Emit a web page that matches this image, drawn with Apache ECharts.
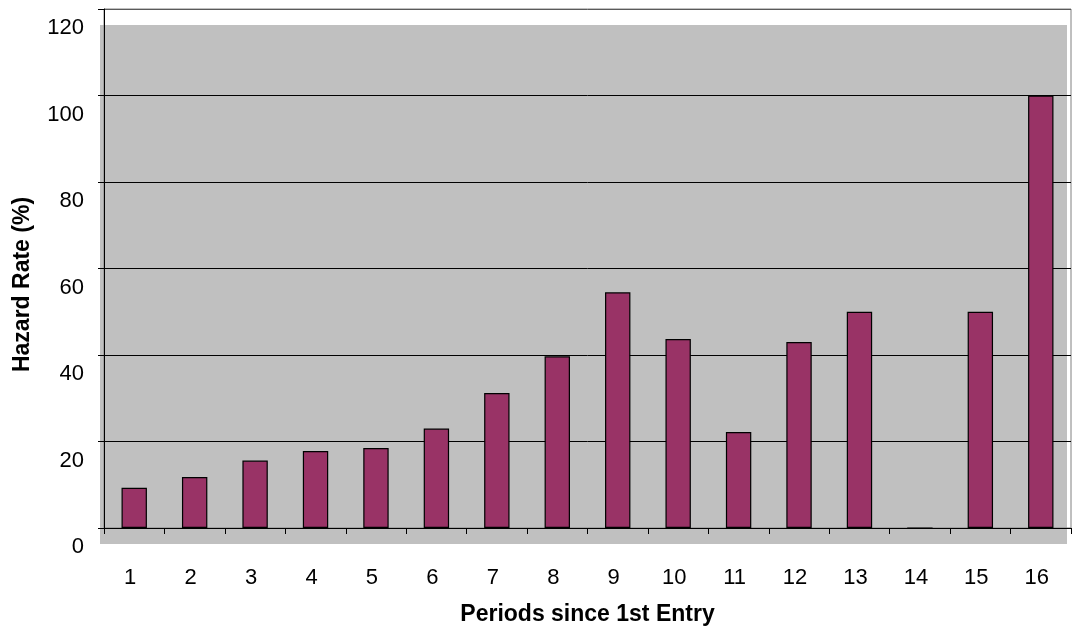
<!DOCTYPE html>
<html>
<head>
<meta charset="utf-8">
<script src="https://cdn.jsdelivr.net/npm/echarts@6/dist/echarts.min.js"></script>
<style>
  html, body { margin: 0; padding: 0; background: #ffffff; }
  #chart { width: 1075px; height: 629px; }
</style>
</head>
<body>
<div id="chart"></div>
<script>
// ---- data ----
const categories = ['1','2','3','4','5','6','7','8','9','10','11','12','13','14','15','16'];
const hazardRate = [9.3, 11.8, 15.6, 17.8, 18.5, 23.0, 31.2, 39.7, 54.5, 43.7, 22.2, 43.0, 50.0, 0, 50.0, 100];
const yMin = 0;
const yMax = 120;
const yStep = 20;
const xTitle = 'Periods since 1st Entry';
const yTitle = 'Hazard Rate (%)';

// ---- layout ----
const W = 1075, H = 629;
const GRID = { left: 104, top: 9, right: 4, bottom: 101 };
const plotW = W - GRID.left - GRID.right;
const plotH = H - GRID.top - GRID.bottom;
const SHIFT_X = -4, SHIFT_Y = 19;

const chart = echarts.init(document.getElementById('chart'), null, { renderer: 'canvas' });
const font = 'Liberation Sans, Arial, Helvetica, sans-serif';

chart.setOption({
  animation: false,
  backgroundColor: '#ffffff',
  graphic: [{
    type: 'rect',
    z: -100,
    silent: true,
    shape: { x: GRID.left + SHIFT_X, y: GRID.top + 16, width: plotW, height: plotH },
    style: { fill: '#C0C0C0' }
  }],
  grid: {
    left: GRID.left, top: GRID.top, right: GRID.right, bottom: GRID.bottom,
    show: true, backgroundColor: 'transparent', borderColor: '#808080', borderWidth: 1,
    containLabel: false,
    outerBoundsMode: 'none'
  },
  xAxis: {
    type: 'category',
    data: categories,
    boundaryGap: true,
    name: xTitle,
    nameLocation: 'middle',
    nameGap: 75,
    nameTextStyle: { fontFamily: font, fontSize: 23, fontWeight: 'bold', color: '#000' },
    axisLine: { show: true, lineStyle: { color: '#000', width: 1 } },
    axisTick: { show: true, alignWithLabel: false, length: 6, lineStyle: { color: '#000', width: 1 } },
    axisLabel: {
      interval: 0, margin: 39, fontFamily: font, fontSize: 22, color: '#000',
      padding: [0, -2 * SHIFT_X, 0, 0]
    },
    splitLine: { show: false }
  },
  yAxis: {
    type: 'value',
    min: yMin, max: yMax, interval: yStep,
    name: yTitle,
    nameLocation: 'middle',
    nameGap: 70,
    nameTextStyle: { fontFamily: font, fontSize: 23, fontWeight: 'bold', color: '#000', padding: [0, 32, 0, 0] },
    axisLine: { show: true, lineStyle: { color: '#000', width: 1 } },
    axisTick: { show: true, length: 6, lineStyle: { color: '#000', width: 1 } },
    axisLabel: {
      margin: 20, fontFamily: font, fontSize: 22, color: '#000',
      verticalAlign: 'top', lineHeight: 2 * SHIFT_Y
    },
    splitLine: { show: true, lineStyle: { color: ['#000','#000','#000','#000','#000','#000','#5a5a5a'], width: 1 } }
  },
  series: [{
    type: 'bar',
    data: hazardRate,
    barWidth: '42%',
    itemStyle: { color: '#993366', borderColor: '#000', borderWidth: 1.2 }
  }]
});
</script>
</body>
</html>
